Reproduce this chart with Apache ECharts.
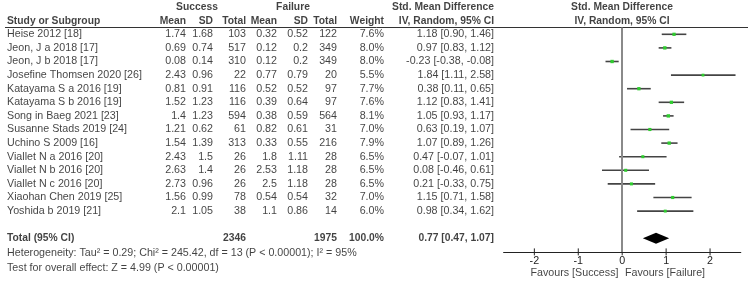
<!DOCTYPE html>
<html>
<head>
<meta charset="utf-8">
<script src="https://cdn.jsdelivr.net/npm/echarts@6/dist/echarts.min.js"></script>
<style>
  html, body { margin: 0; padding: 0; background: #fff; }
  #chart { width: 750px; height: 285px; }
</style>
</head>
<body>
<div id="chart"></div>
<script>
const studies = ['Heise 2012 [18]', 'Jeon, J a 2018 [17]', 'Jeon, J b 2018 [17]', 'Josefine Thomsen 2020 [26]',
  'Katayama S a 2016 [19]', 'Katayama S b 2016 [19]', 'Song in Baeg 2021 [23]', 'Susanne Stads 2019 [24]',
  'Uchino S 2009 [16]', 'Viallet N a 2016 [20]', 'Viallet N b 2016 [20]', 'Viallet N c 2016 [20]',
  'Xiaohan Chen 2019 [25]', 'Yoshida b 2019 [21]'];
const succMean = [1.74, 0.69, 0.08, 2.43, 0.81, 1.52, 1.4, 1.21, 1.54, 2.43, 2.63, 2.73, 1.56, 2.1];
const succSD = [1.68, 0.74, 0.14, 0.96, 0.91, 1.23, 1.23, 0.62, 1.39, 1.5, 1.4, 0.96, 0.99, 1.05];
const succN = [103, 517, 310, 22, 116, 116, 594, 61, 313, 26, 26, 26, 78, 38];
const failMean = [0.32, 0.12, 0.12, 0.77, 0.52, 0.39, 0.38, 0.82, 0.33, 1.8, 2.53, 2.5, 0.54, 1.1];
const failSD = [0.52, 0.2, 0.2, 0.79, 0.52, 0.64, 0.59, 0.61, 0.55, 1.11, 1.18, 1.18, 0.54, 0.86];
const failN = [122, 349, 349, 20, 97, 97, 564, 31, 216, 28, 28, 28, 32, 14];
const weight = [7.6, 8.0, 8.0, 5.5, 7.7, 7.6, 8.1, 7.0, 7.9, 6.5, 6.5, 6.5, 7.0, 6.0];
const smd = [1.18, 0.97, -0.23, 1.84, 0.38, 1.12, 1.05, 0.63, 1.07, 0.47, 0.08, 0.21, 1.15, 0.98];
const ciLow = [0.90, 0.83, -0.38, 1.11, 0.11, 0.83, 0.93, 0.19, 0.89, -0.07, -0.46, -0.33, 0.71, 0.34];
const ciHigh = [1.46, 1.12, -0.08, 2.58, 0.65, 1.41, 1.17, 1.07, 1.26, 1.01, 0.61, 0.75, 1.58, 1.62];

const totalSuccN = 2346;
const totalFailN = 1975;
const totalWeight = 100.0;
const totalSmd = [0.77, 0.47, 1.07]; // estimate, low, high
const heterogeneity = 'Heterogeneity: Tau² = 0.29; Chi² = 245.42, df = 13 (P < 0.00001); I² = 95%';
const overallTest = 'Test for overall effect: Z = 4.99 (P < 0.00001)';

const xTicks = [-2, -1, 0, 1, 2];

// layout
const H = 285;
const rowTop = 34.3, rowH = 13.6;
const totalRow = 15;
const font = 'Liberation Sans, Arial, sans-serif';
// right edges of the table columns
const col = { sMean: 186, sSD: 213, sN: 246, fMean: 277, fSD: 308, fN: 337, w: 384, ci: 494 };

const fmt2 = v => v.toFixed(2);
const ciText = (e, l, h) => fmt2(e) + ' [' + fmt2(l) + ', ' + fmt2(h) + ']';

// table cells: [x, row, text], grouped by alignment / weight
const rightCells = [], leftCells = [], centerCells = [];
const boldRight = [], boldLeft = [], boldCenter = [];

studies.forEach((s, i) => {
  leftCells.push([7, i, s]);
  rightCells.push([col.sMean, i, String(succMean[i])]);
  rightCells.push([col.sSD, i, String(succSD[i])]);
  rightCells.push([col.sN, i, String(succN[i])]);
  rightCells.push([col.fMean, i, String(failMean[i])]);
  rightCells.push([col.fSD, i, String(failSD[i])]);
  rightCells.push([col.fN, i, String(failN[i])]);
  rightCells.push([col.w, i, weight[i].toFixed(1) + '%']);
  rightCells.push([col.ci, i, ciText(smd[i], ciLow[i], ciHigh[i])]);
});

boldCenter.push([197, -2, 'Success'], [293, -2, 'Failure'], [443, -2, 'Std. Mean Difference'],
  [622, -2, 'Std. Mean Difference'], [622, -1, 'IV, Random, 95% CI']);
boldLeft.push([7, -1, 'Study or Subgroup'], [7, totalRow, 'Total (95% CI)']);
boldRight.push([col.sMean, -1, 'Mean'], [col.sSD, -1, 'SD'], [col.sN, -1, 'Total'],
  [col.fMean, -1, 'Mean'], [col.fSD, -1, 'SD'], [col.fN, -1, 'Total'], [col.w, -1, 'Weight'],
  [col.ci, -1, 'IV, Random, 95% CI'],
  [col.sN, totalRow, String(totalSuccN)], [col.fN, totalRow, String(totalFailN)],
  [col.w, totalRow, totalWeight.toFixed(1) + '%'],
  [col.ci, totalRow, ciText(totalSmd[0], totalSmd[1], totalSmd[2])]);
leftCells.push([7, (253.3 - rowTop) / rowH, heterogeneity], [7, (267.7 - rowTop) / rowH, overallTest]);
centerCells.push([574.5, (273.3 - rowTop) / rowH, 'Favours [Success]'], [665, (273.3 - rowTop) / rowH, 'Favours [Failure]']);

function textSeries(data, position, bold) {
  return {
    type: 'scatter', xAxisIndex: 0, yAxisIndex: 0, data: data,
    symbolSize: 0, silent: true,
    label: {
      show: true, position: position, distance: 0,
      formatter: p => p.value[2],
      fontFamily: font, fontSize: bold ? 10.3 : 10.7,
      fontWeight: bold ? 'bold' : 'normal', color: '#111'
    }
  };
}

const forestData = studies.map((s, i) => [ciLow[i], ciHigh[i], smd[i], i, 1.6 + weight[i] * 0.22]);

const chart = echarts.init(document.getElementById('chart'));
chart.setOption({
  animation: false,
  grid: [
    { left: 0, right: 0, top: 0, bottom: 0 },
    { left: 503.6, right: 9.2, top: rowTop - 0.5 * rowH, bottom: H - (rowTop + 16 * rowH) }
  ],
  xAxis: [
    { gridIndex: 0, type: 'value', min: 0, max: 750, show: false },
    {
      gridIndex: 1, type: 'value', min: -2.7, max: 2.7, position: 'bottom',
      splitLine: { show: false },
      axisLine: { show: true, onZero: false, lineStyle: { color: '#222', width: 1 } },
      axisTick: { show: false },
      axisLabel: { customValues: xTicks, margin: 4, fontFamily: font, fontSize: 10.7, color: '#222' }
    }
  ],
  yAxis: [
    { gridIndex: 0, type: 'value', inverse: true, min: -rowTop / rowH, max: (H - rowTop) / rowH, show: false },
    { gridIndex: 1, type: 'value', inverse: true, min: -0.5, max: 16, show: false }
  ],
  graphic: [
    { type: 'line', shape: { x1: 5, y1: 27.5, x2: 748, y2: 27.5 }, style: { stroke: '#333', lineWidth: 1 }, silent: true }
  ],
  series: [
    textSeries(leftCells, 'right', false),
    textSeries(rightCells, 'left', false),
    textSeries(centerCells, 'inside', false),
    textSeries(boldLeft, 'right', true),
    textSeries(boldRight, 'left', true),
    textSeries(boldCenter, 'inside', true),
    {
      type: 'custom', xAxisIndex: 1, yAxisIndex: 1, data: forestData, silent: true,
      renderItem: (params, api) => {
        const a = api.coord([api.value(0), api.value(3)]);
        const b = api.coord([api.value(1), api.value(3)]);
        const c = api.coord([api.value(2), api.value(3)]);
        const s = api.value(4);
        return {
          type: 'group', children: [
            { type: 'line', shape: { x1: a[0], y1: a[1], x2: b[0], y2: b[1] }, style: { stroke: '#444', lineWidth: 1.6 } },
            { type: 'rect', shape: { x: c[0] - s / 2, y: c[1] - s / 2, width: s, height: s }, style: { fill: '#2fcc2f' } }
          ]
        };
      },
      markLine: {
        silent: true, symbol: 'none', label: { show: false },
        lineStyle: { color: '#8a8a8a', width: 2, type: 'solid' },
        data: [{ xAxis: 0 }]
      },
      z: 3
    },
    {
      // tick marks crossing the axis line
      type: 'custom', xAxisIndex: 1, yAxisIndex: 1, silent: true,
      data: xTicks.map(t => [t, 16]),
      renderItem: (params, api) => {
        const p = api.coord([api.value(0), api.value(1)]);
        return { type: 'line', shape: { x1: p[0], y1: p[1] - 3.5, x2: p[0], y2: p[1] + 3.5 }, style: { stroke: '#222', lineWidth: 1 } };
      },
      z: 4
    },
    {
      type: 'custom', xAxisIndex: 1, yAxisIndex: 1, silent: true,
      data: [[totalSmd[0], totalSmd[1], totalSmd[2], totalRow]],
      renderItem: (params, api) => {
        const m = api.coord([api.value(0), api.value(3)]);
        const l = api.coord([api.value(1), api.value(3)]);
        const r = api.coord([api.value(2), api.value(3)]);
        const hh = 5.5;
        return {
          type: 'polygon',
          shape: { points: [[l[0], m[1]], [m[0], m[1] - hh], [r[0], m[1]], [m[0], m[1] + hh]] },
          style: { fill: '#000' }
        };
      },
      z: 4
    }
  ]
});
</script>
</body>
</html>
